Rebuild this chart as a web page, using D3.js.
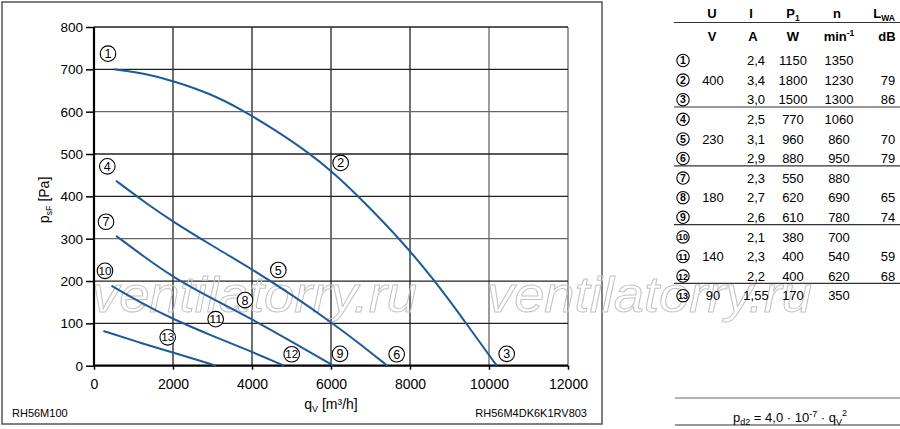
<!DOCTYPE html>
<html>
<head>
<meta charset="utf-8">
<script src="https://cdn.jsdelivr.net/npm/d3@7"></script>
<style>
  body { margin: 0; background: #fff; }
  svg text { font-family: "Liberation Sans", Arial, Helvetica, sans-serif; }
</style>
</head>
<body>
<div id="chart-container"></div>
<script>
// fan curves: [q_V in m3/h, p_sF in Pa]
const curve400 = [[500, 700], [1300, 690], [2000, 673], [2937, 643], [3739, 605], [4600, 556], [5451, 502], [6017, 459], [6676, 402], [7790, 295], [8633, 200], [9410, 102], [10195, 0]];
const curve230 = [[557, 437], [1300, 385], [2000, 340], [3000, 283], [4000, 228], [5000, 168], [6000, 103], [6700, 54], [7425, 0]];
const curve180 = [[557, 307], [1300, 255], [2000, 209], [3000, 158], [4000, 110], [5000, 57], [6060, 0]];
const curve140 = [[440, 189], [1200, 148], [2000, 110], [3000, 70], [4000, 33], [4810, 0]];
const curve90 = [[238, 82], [1100, 56], [2000, 31], [2600, 14], [3089, 0]];

// circled operating point labels on the chart
const pointIds = [1, 2, 3, 4, 5, 6, 7, 8, 9, 10, 11, 12, 13];
const pointQ = [354, 6245, 10448, 337, 4666, 7663, 304, 3823, 6228, 278, 3080, 5005, 1866];
const pointP = [737, 479, 28, 471, 226, 27, 340, 155, 28, 224, 110, 27, 67];

const xTicks = [0, 2000, 4000, 6000, 8000, 10000, 12000];
const yTicks = [0, 100, 200, 300, 400, 500, 600, 700, 800];

// table
const colU = ["", "400", "", "", "230", "", "", "180", "", "", "140", "", "90"];
const colI = ["2,4", "3,4", "3,0", "2,5", "3,1", "2,9", "2,3", "2,7", "2,6", "2,1", "2,3", "2,2", "1,55"];
const colP1 = ["1150", "1800", "1500", "770", "960", "880", "550", "620", "610", "380", "400", "400", "170"];
const colN = ["1350", "1230", "1300", "1060", "860", "950", "880", "690", "780", "700", "540", "620", "350"];
const colL = ["", "79", "86", "", "70", "79", "", "65", "74", "", "59", "68", ""];
const groupEnds = [2, 5, 8, 11];

const W = 900, H = 429;
const blue = "#1d5a9a";

const svg = d3
  .select("#chart-container")
  .append("svg")
  .attr("width", W)
  .attr("height", H);

// outer frame of the chart
svg.append("rect")
  .attr("x", 2).attr("y", 2)
  .attr("width", 600).attr("height", 422)
  .attr("fill", "none")
  .attr("stroke", "#555")
  .attr("stroke-width", 1.5);

const x = d3.scaleLinear().domain([0, 12000]).range([94, 568]);
const y = d3.scaleLinear().domain([0, 800]).range([365.7, 27]);

// grid
const grid = svg.append("g").attr("class", "grid");
grid.selectAll(".vx")
  .data(xTicks.slice(1))
  .enter()
  .append("line")
  .attr("x1", d => x(d)).attr("x2", d => x(d))
  .attr("y1", y(0)).attr("y2", y(800))
  .attr("stroke", d => d >= 10000 ? "#666" : "#222")
  .attr("stroke-width", 1.3);
grid.selectAll(".hy")
  .data(yTicks.slice(1))
  .enter()
  .append("line")
  .attr("x1", x(0)).attr("x2", x(12000))
  .attr("y1", d => y(d)).attr("y2", d => y(d))
  .attr("stroke", d => (d % 300 === 0) ? "#666" : "#222")
  .attr("stroke-width", 1.3);

// watermark
[92, 487].forEach(wx => {
  svg.append("text")
    .attr("x", wx)
    .attr("y", 312)
    .attr("font-size", 50)
    .attr("font-style", "italic")
    .attr("textLength", 325)
    .attr("lengthAdjust", "spacingAndGlyphs")
    .attr("fill", "none")
    .attr("stroke", "#c4c4c4")
    .attr("stroke-width", 1)
    .text("ventilatorry.ru");
});

// axes
const xAxis = svg.append("g")
  .attr("transform", "translate(0," + y(0) + ")")
  .call(d3.axisBottom(x).tickValues(xTicks).tickFormat(d3.format("d"))
    .tickSize(4).tickPadding(9).tickSizeOuter(0));
const yAxis = svg.append("g")
  .attr("transform", "translate(" + x(0) + ",0)")
  .call(d3.axisLeft(y).tickValues(yTicks).tickFormat(d3.format("d"))
    .tickSize(8).tickPadding(3).tickSizeOuter(0));

[xAxis, yAxis].forEach(a => {
  a.select(".domain").attr("stroke", "#000").attr("stroke-width", 2.2);
  a.selectAll(".tick line").attr("stroke", "#000").attr("stroke-width", 1.5);
  a.selectAll(".tick text")
    .attr("fill", "#000")
    .style("font-family", "'Liberation Sans', Arial, sans-serif");
});
xAxis.selectAll(".tick text").style("font-size", "14px");
yAxis.selectAll(".tick text").style("font-size", "13.5px");
xAxis.select(".domain").attr("d", "M" + x(0) + ",0H" + x(12000));
yAxis.select(".domain").attr("d", "M0," + y(0) + "V" + y(800));

// curves
const line = d3.line()
  .x(d => x(d[0]))
  .y(d => y(d[1]))
  .curve(d3.curveBasis);

svg.append("g")
  .selectAll("path")
  .data([curve400, curve230, curve180, curve140, curve90])
  .enter()
  .append("path")
  .attr("d", line)
  .attr("fill", "none")
  .attr("stroke", blue)
  .attr("stroke-width", 2);

// circled numbers on the chart
const marks = svg.append("g")
  .selectAll("g")
  .data(pointIds)
  .enter()
  .append("g")
  .attr("transform", (d, i) => "translate(" + x(pointQ[i]) + "," + y(pointP[i]) + ")");
marks.append("circle")
  .attr("r", 7.8)
  .attr("fill", "#fff")
  .attr("stroke", "#000")
  .attr("stroke-width", 1.1);
marks.append("text")
  .attr("text-anchor", "middle")
  .attr("dy", "0.36em")
  .attr("font-size", d => d > 9 ? 11.5 : 12.5)
  .attr("textLength", d => d > 9 ? 13 : null)
  .attr("lengthAdjust", "spacingAndGlyphs")
  .text(d => d);

// axis titles
const yTitle = svg.append("text")
  .attr("transform", "translate(49,200)rotate(-90)")
  .attr("text-anchor", "middle")
  .attr("font-size", 14);
yTitle.append("tspan").text("p");
yTitle.append("tspan").attr("font-size", 9).attr("dy", 3).text("sF");
yTitle.append("tspan").attr("dy", -3).text(" [Pa]");

const xTitle = svg.append("text")
  .attr("x", 331).attr("y", 409)
  .attr("text-anchor", "middle")
  .attr("font-size", 14);
xTitle.append("tspan").text("q");
xTitle.append("tspan").attr("font-size", 9).attr("dy", 3).text("V");
xTitle.append("tspan").attr("dy", -3).text(" [m³/h]");

svg.append("text")
  .attr("x", 12).attr("y", 417)
  .attr("font-size", 11)
  .text("RH56M100");
svg.append("text")
  .attr("x", 587).attr("y", 417)
  .attr("text-anchor", "end")
  .attr("font-size", 11)
  .text("RH56M4DK6K1RV803");

// ---- table on the right ----
const tbl = svg.append("g").attr("class", "table");
const colX = { id: 683, U: 713, I: 756, P: 793, n: 839, L: 888 };
const rowY = i => 60.5 + i * 19.6;

function header(xPos, yPos, main, sub, sup) {
  const t = tbl.append("text")
    .attr("x", xPos).attr("y", yPos)
    .attr("text-anchor", "middle")
    .attr("font-size", 13)
    .attr("font-weight", "bold");
  t.append("tspan").text(main);
  if (sub) t.append("tspan").attr("font-size", 8.5).attr("dy", 3).text(sub);
  if (sup) t.append("tspan").attr("font-size", 8.5).attr("dy", -5).text(sup);
  return t;
}
header(colX.U - 1, 18, "U");
header(colX.I - 5, 18, "I");
header(colX.P, 18, "P", "1");
header(colX.n - 2, 18, "n");
header(colX.L - 4, 18, "L", "WA");
header(colX.U - 1, 41, "V");
header(colX.I - 3, 41, "A");
header(colX.P, 41, "W");
header(colX.n, 41, "min", null, "-1");
header(colX.L - 1, 41, "dB");

const lineColor = "#333";
tbl.append("line")
  .attr("x1", 674).attr("x2", 900)
  .attr("y1", 22.5).attr("y2", 22.5)
  .attr("stroke", lineColor).attr("stroke-width", 1.2);
tbl.selectAll(".sep")
  .data(groupEnds)
  .enter()
  .append("line")
  .attr("x1", 674).attr("x2", 900)
  .attr("y1", d => rowY(d + 0.5) - 2.5)
  .attr("y2", d => rowY(d + 0.5) - 2.5)
  .attr("stroke", lineColor).attr("stroke-width", 1.2);

const rows = tbl.selectAll(".row")
  .data(pointIds)
  .enter()
  .append("g")
  .attr("transform", (d, i) => "translate(0," + rowY(i) + ")");
rows.append("circle")
  .attr("cx", colX.id)
  .attr("r", 6.2)
  .attr("fill", "#fff")
  .attr("stroke", "#000")
  .attr("stroke-width", 1.1);
rows.append("text")
  .attr("x", colX.id)
  .attr("dy", "0.36em")
  .attr("text-anchor", "middle")
  .attr("font-size", d => d > 9 ? 9.5 : 10.5)
  .attr("font-weight", "bold")
  .attr("textLength", d => d > 9 ? 10 : null)
  .attr("lengthAdjust", "spacingAndGlyphs")
  .text(d => d);

const cols = [[colU, colX.U], [colI, colX.I], [colP1, colX.P], [colN, colX.n], [colL, colX.L]];
cols.forEach(([vals, cx]) => {
  rows.append("text")
    .attr("x", cx)
    .attr("dy", "0.36em")
    .attr("text-anchor", "middle")
    .attr("font-size", 13)
    .text((d, i) => vals[i]);
});

// dynamic pressure formula
tbl.append("line")
  .attr("x1", 675).attr("x2", 900)
  .attr("y1", 398).attr("y2", 398)
  .attr("stroke", "#666").attr("stroke-width", 1.2);
tbl.append("line")
  .attr("x1", 675).attr("x2", 900)
  .attr("y1", 425).attr("y2", 425)
  .attr("stroke", "#333").attr("stroke-width", 1.2);
const f = tbl.append("text")
  .attr("x", 790).attr("y", 422)
  .attr("text-anchor", "middle")
  .attr("font-size", 13);
f.append("tspan").text("p");
f.append("tspan").attr("font-size", 9).attr("dy", 3).text("d2");
f.append("tspan").attr("dy", -3).text(" = 4,0 · 10");
f.append("tspan").attr("font-size", 9).attr("dy", -5).text("-7");
f.append("tspan").attr("dy", 5).text(" · q");
f.append("tspan").attr("font-size", 9).attr("dy", 3).text("V");
f.append("tspan").attr("font-size", 9).attr("dy", -9).text("2");
</script>
</body>
</html>
